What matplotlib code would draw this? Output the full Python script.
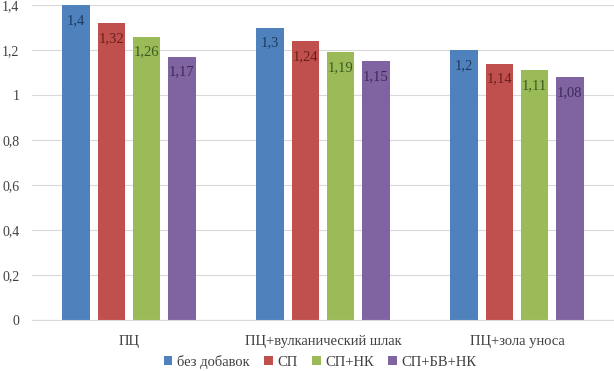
import numpy as np
import matplotlib.pyplot as plt

categories = ['ПЦ', 'ПЦ+вулканический шлак', 'ПЦ+зола уноса']
series_names = ['без добавок', 'СП', 'СП+НК', 'СП+БВ+НК']
bez_dobavok = [1.4, 1.3, 1.2]
sp = [1.32, 1.24, 1.14]
sp_nk = [1.26, 1.19, 1.11]
sp_bv_nk = [1.17, 1.15, 1.08]

colors = ['#4F81BD', '#C0504D', '#9BBB59', '#8064A2']
label_colors = ['#1F3A5F', '#6A1F1D', '#3D5A1E', '#3B2A57']

plt.rcParams['font.family'] = ['Liberation Serif', 'DejaVu Serif']

fig = plt.figure(figsize=(6.14, 3.71), dpi=100)
ax = fig.add_axes([32 / 614, 1 - 320 / 371, 582 / 614, 315 / 371])

x = np.arange(len(categories))
width = 0.142
step = 0.182
all_series = [bez_dobavok, sp, sp_nk, sp_bv_nk]
for i, (vals, name) in enumerate(zip(all_series, series_names)):
    pos = x + (i - 1.5) * step
    bars = ax.bar(pos, vals, width, color=colors[i], label=name, zorder=2)
    for b, v in zip(bars, vals):
        ax.annotate(f'{v:g}'.replace('.', ','), (b.get_x() + b.get_width() / 2, v),
                    xytext=(0, -11), textcoords='offset points',
                    ha='center', va='center', fontsize=10.5, color=label_colors[i])

ax.set_xlim(-0.5, 2.5)
ax.set_ylim(0, 1.4)
ax.set_yticks(np.arange(0, 1.41, 0.2))
ax.set_yticklabels(['0'] + [f'{t:g}'.replace('.', ',') for t in np.arange(0.2, 1.41, 0.2)])
ax.yaxis.grid(True, color='#D9D9D9', linewidth=0.8, zorder=0)
ax.set_xticks(x)
ax.set_xticklabels(categories)
ax.tick_params(axis='both', length=0, labelsize=10.5, colors='#404040')
ax.tick_params(axis='x', pad=11)
ax.tick_params(axis='y', pad=9, labelsize=10)
for s in ['top', 'right', 'left']:
    ax.spines[s].set_visible(False)
ax.spines['bottom'].set_color('#D9D9D9')

fig.legend(loc='center', bbox_to_anchor=(320 / 614, 9 / 371), ncol=4, frameon=False,
           fontsize=10.5, handlelength=0.6, handleheight=0.6, handletextpad=0.3,
           columnspacing=1.0, labelcolor='#404040', borderaxespad=0, borderpad=0)

fig.savefig('out.png', dpi=100)
